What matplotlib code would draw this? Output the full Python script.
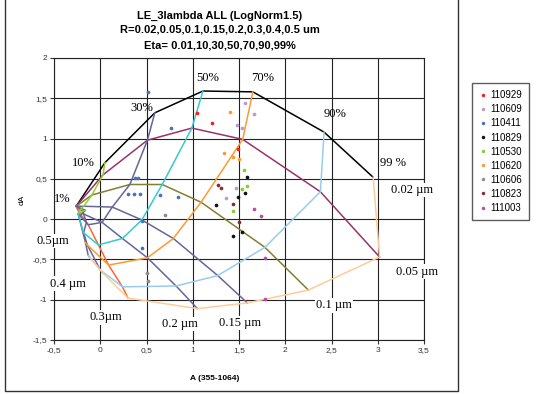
import matplotlib
matplotlib.use("Agg")
import matplotlib.pyplot as plt
from matplotlib.lines import Line2D

# radii (um) and fine mode fractions (%)
radii = [0.02, 0.05, 0.1, 0.15, 0.2, 0.3, 0.4, 0.5]
etas = [1, 10, 30, 50, 70, 90, 99]

# A and dA of the model grid, one row per radius, one column per eta
grid_A = [
    [-0.26, 0.05, 0.59, 1.11, 1.65, 2.42, 2.95],
    [-0.26, 0.03, 0.51, 0.99, 1.54, 2.38, 3.02],
    [-0.26, -0.09, 0.32, 0.67, 1.09, 1.78, 2.25],
    [-0.26, -0.18, 0.13, 0.45, 0.79, 1.27, 1.59],
    [-0.26, -0.23, 0.02, 0.24, 0.51, 0.82, 1.05],
    [-0.26, -0.22, -0.13, -0.02, 0.09, 0.24, 0.30],
    [-0.26, -0.19, -0.15, -0.18, -0.14, 0.00, 0.03],
    [-0.26, -0.16, -0.22, -0.24, -0.16, -0.13, -0.11],
]
grid_dA = [
    [0.16, 0.70, 1.32, 1.59, 1.58, 1.08, 0.52],
    [0.16, 0.55, 0.98, 1.13, 0.99, 0.34, -0.47],
    [0.16, 0.30, 0.43, 0.43, 0.21, -0.35, -0.88],
    [0.16, 0.16, 0.15, -0.01, -0.24, -0.70, -1.04],
    [0.16, 0.09, -0.04, -0.24, -0.48, -0.83, -1.11],
    [0.16, 0.07, -0.07, -0.32, -0.57, -0.84, -0.98],
    [0.16, 0.10, -0.04, -0.17, -0.32, -0.63, -0.67],
    [0.16, 0.11, 0.04, 0.07, -0.29, -0.45, -0.48],
]

radius_colors = ['black', '#993366', '#808033', '#666699', '#666699', '#FF6633', '#666699', '#666699']
eta_colors = [None, '#99CC33', '#666699', '#33CCCC', '#FF9933', '#99CCEE', '#FFCC99']

# measurements
dates = ['110929', '110609', '110411', '110829', '110530', '110620', '110606', '110823', '111003']
date_colors = ['#EE2222', '#B99BD0', '#4A70C0', '#111111', '#88CC33', '#FF9933', '#8C8C8C', '#8B2A2A', '#B94AAE']
meas_A = [
    [1.05, 1.21, 1.49],
    [1.57, 1.66, 1.48, 1.53, 1.47, 1.36],
    [0.52, 0.76, 0.38, 0.41, 0.30, 0.37, 0.43, 0.65, 0.84, 0.45, 0.45],
    [1.59, 1.57, 1.49, 1.25, 1.44, 1.53],
    [1.55, 1.53, 1.59, 1.43],
    [1.40, 1.34, 1.44, 1.50],
    [0.70, 0.51, 0.52],
    [1.27, 1.31, 1.43, 1.50],
    [1.66, 1.74, 1.78, 1.78],
]
meas_dA = [
    [1.32, 1.19, 0.87],
    [1.44, 1.30, 1.17, 1.13, 0.39, 0.26],
    [1.58, 1.13, 0.51, 0.51, 0.31, 0.31, 0.31, 0.30, 0.27, -0.02, -0.36],
    [0.52, 0.32, 0.27, 0.17, -0.21, -0.16],
    [0.61, 0.37, 0.41, 0.10],
    [1.33, 0.82, 0.77, 0.75],
    [0.05, -0.67, -0.77],
    [0.42, 0.39, 0.19, -0.04],
    [0.12, 0.04, -0.48, -0.99],
]

eta_labels = ['1%', '10%', '30%', '50%', '70%', '90%', '99 %']
eta_label_pos = [(-0.41, 0.25), (-0.18, 0.70), (0.45, 1.38), (1.16, 1.75),
                 (1.75, 1.75), (2.54, 1.30), (3.16, 0.70)]
radius_labels = ['0.02 \u00b5m', '0.05 \u00b5m', '0.1 \u00b5m', '0.15 \u00b5m',
                 '0.2 \u00b5m', '0.3\u00b5m', '0.4 \u00b5m', '0.5\u00b5m']
radius_label_pos = [(3.37, 0.36), (3.42, -0.65), (2.53, -1.07), (1.51, -1.29),
                    (0.86, -1.30), (0.06, -1.22), (-0.35, -0.80), (-0.51, -0.27)]

x_ticks = [-0.5, 0, 0.5, 1, 1.5, 2, 2.5, 3, 3.5]
y_ticks = [-1.5, -1, -0.5, 0, 0.5, 1, 1.5, 2]


def comma(v):
    s = ('%g' % v)
    return s.replace('.', ',')


fig = plt.figure(figsize=(5.45, 3.94), dpi=100)
ax = fig.add_axes([54 / 545, 1 - 340 / 394, 370 / 545, 282 / 394])

# radius curves (over eta)
for i in range(len(radii)):
    ax.plot(grid_A[i], grid_dA[i], color=radius_colors[i], lw=1.1, zorder=3)

# eta curves (over radius)
for j in range(1, len(etas)):
    xs = [grid_A[i][j] for i in range(len(radii))]
    ys = [grid_dA[i][j] for i in range(len(radii))]
    ax.plot(xs, ys, color=eta_colors[j], lw=1.1, zorder=3)

handles = []
for k in range(len(dates)):
    ax.scatter(meas_A[k], meas_dA[k], s=7, color=date_colors[k], zorder=4, linewidths=0)
    handles.append(Line2D([], [], ls='none', marker='o', ms=2.5, color=date_colors[k], mec='none'))

for t, (x, y) in zip(eta_labels, eta_label_pos):
    ax.text(x, y, t, ha='center', va='center', fontsize=9, family='Liberation Serif',
            zorder=5, clip_on=False)
for t, (x, y) in zip(radius_labels, radius_label_pos):
    ax.text(x, y, t, ha='center', va='center', fontsize=9, family='Liberation Serif',
            zorder=5, clip_on=False,
            bbox=dict(boxstyle='square,pad=0.1', fc='white', ec='none'))

ax.set_xlim(-0.5, 3.5)
ax.set_ylim(-1.5, 2)
ax.set_xticks(x_ticks)
ax.set_yticks(y_ticks)
ax.set_xticklabels([comma(v) for v in x_ticks])
ax.set_yticklabels([comma(v) for v in y_ticks])
ax.grid(True, color='#222222', lw=0.8)
ax.set_axisbelow(True)
for sp in ax.spines.values():
    sp.set_color('#222222')
    sp.set_linewidth(0.8)
ax.tick_params(direction='out', length=3, width=0.8, labelsize=6, pad=2, colors='#333333')
for lab in ax.get_xticklabels() + ax.get_yticklabels():
    lab.set_family('Liberation Sans')

fig.text(220 / 545, 1 - 16 / 394, 'LE_3lambda ALL (LogNorm1.5)', ha='center', va='center',
         fontsize=8, weight='bold', family='Liberation Sans')
fig.text(220 / 545, 1 - 30 / 394, 'R=0.02,0.05,0.1,0.15,0.2,0.3,0.4,0.5 um', ha='center', va='center',
         fontsize=8, weight='bold', family='Liberation Sans')
fig.text(220 / 545, 1 - 45 / 394, 'Eta= 0.01,10,30,50,70,90,99%', ha='center', va='center',
         fontsize=8, weight='bold', family='Liberation Sans')
fig.text(215 / 545, 1 - 378 / 394, 'A (355-1064)', ha='center', va='center',
         fontsize=6, weight='bold', family='Liberation Sans')
fig.text(22 / 545, 1 - 200 / 394, 'dA', ha='center', va='center', rotation=90,
         fontsize=6, family='Liberation Sans')

# chart border
fig.add_artist(Line2D([5 / 545, 5 / 545, 458 / 545, 458 / 545],
                      [1.0, 1 - 391 / 394, 1 - 391 / 394, 1.0],
                      transform=fig.transFigure, color='#333333', lw=1))

leg = fig.legend(handles, dates, loc='upper left', bbox_to_anchor=(472 / 545, 1 - 83 / 394),
                 frameon=True, fancybox=False, handlelength=0.8,
                 handletextpad=0.3, labelspacing=0.42, borderpad=0.75, borderaxespad=0,
                 prop={'family': 'Liberation Sans', 'size': 7})
leg.get_frame().set_edgecolor('#333333')
leg.get_frame().set_linewidth(1)

fig.savefig('out.png', dpi=100)
